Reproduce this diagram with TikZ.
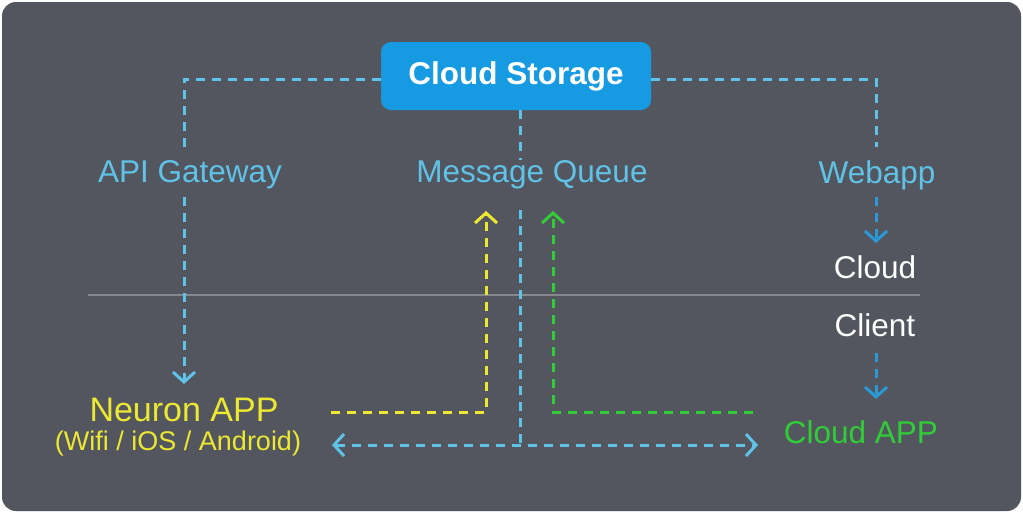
\documentclass[tikz,border=0pt]{standalone}
\usepackage{fontspec}
\setmainfont{Liberation Sans}
\usetikzlibrary{arrows.meta}
\definecolor{bg}{RGB}{84,86,95}
\definecolor{boxblue}{RGB}{22,155,226}
\definecolor{lblue}{RGB}{95,195,232}
\definecolor{dblue}{RGB}{40,155,215}
\definecolor{yel}{RGB}{236,232,50}
\definecolor{grn}{RGB}{48,205,55}
\definecolor{sepgray}{RGB}{135,136,142}
\begin{document}
\begin{tikzpicture}[x=1pt,y=-1pt,
  conn/.style={line width=3pt, dash pattern=on 9pt off 7pt},
  tipend/.style={-{Straight Barb[length=10pt,width=22pt,line width=3pt]}},
  tipboth/.style={{Straight Barb[length=10pt,width=22pt,line width=3pt]}-{Straight Barb[length=10pt,width=22pt,line width=3pt]}},
  lbl/.style={inner sep=0pt, font=\fontsize{31.5}{36}\selectfont},
]
\useasboundingbox (0,0) rectangle (1023,514);
\fill[white] (0,0) rectangle (1023,514);
\fill[bg, rounded corners=14pt] (2,2) rectangle (1021,511);

% separator
\coordinate (sepL) at (88,295);
\coordinate (sepR) at (920,295);
\draw[sepgray, line width=1.2pt] (sepL) -- (sepR);

% nodes
\node[fill=boxblue, rounded corners=10pt, minimum width=270pt, minimum height=68pt,
      text=white, font=\bfseries\fontsize{31.5}{36}\selectfont] (cs) at (516,76) {Cloud Storage};
\node[lbl, text=lblue] (api) at (190,175) {API Gateway};
\node[lbl, text=lblue] (mq) at (532,175) {Message Queue};
\node[lbl, text=lblue] (web) at (877,175) {Webapp};
\node[lbl, text=white] (cloud) at (875,267) {Cloud};
\node[lbl, text=white] (client) at (875,325) {Client};
\node[lbl, text=yel, font=\fontsize{34}{38}\selectfont] (neuron) at (184,410) {Neuron APP};
\node[lbl, text=yel, font=\fontsize{27}{30}\selectfont] (neuronsub) at (178,444) {(Wifi / iOS / Android)};
\node[lbl, text=grn] (capp) at (861,432) {Cloud APP};

% coordinates
\coordinate (apiIn) at (184,150);
\coordinate (apiOut) at (184,197);
\coordinate (neuronIn) at (184,384);
\coordinate (webIn) at (876,147);
\coordinate (webOut) at (876,197);
\coordinate (cloudIn) at (876,243);
\coordinate (clientOut) at (876,353);
\coordinate (cappIn) at (876,399);
\coordinate (mqIn) at (520,160);
\coordinate (mqOut) at (520,210);
\coordinate (hub) at (520,445);
\coordinate (busL) at (332,445);
\coordinate (busR) at (758,445);
\coordinate (yStart) at (331,412);
\coordinate (yEnd) at (486,211);
\coordinate (gStart) at (753,412);
\coordinate (gEnd) at (553,211);

% connectors
\draw[conn, lblue] ([yshift=-3pt]cs.west) -| (apiIn);
\draw[conn, lblue, tipend] (apiOut) -- (neuronIn);
\draw[conn, lblue] ([yshift=-3pt]cs.east) -| (webIn);
\draw[conn, dblue, tipend] (webOut) -- (cloudIn);
\draw[conn, dblue, tipend] (clientOut) -- (cappIn);
\draw[conn, lblue] (cs.south -| mqIn) -- (mqIn);
\draw[conn, lblue] (mqOut) -- (hub);
\draw[conn, lblue, tipboth] (busL) -- (busR);
\draw[conn, yel, tipend] (yStart) -| (yEnd);
\draw[conn, grn, tipend] (gStart) -| (gEnd);
\end{tikzpicture}
\end{document}
